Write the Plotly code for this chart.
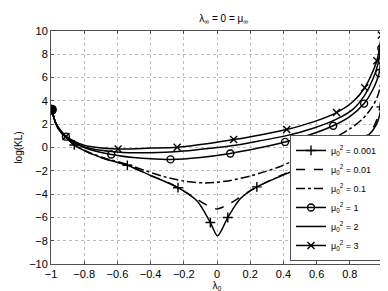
import plotly.graph_objects as go

# ---- data ----
x_a = [-0.995, -0.97, -0.94, -0.91, -0.86, -0.78, -0.68, -0.54, -0.40, -0.235, -0.12, -0.04, 0.003, 0.065, 0.14, 0.24, 0.36, 0.47, 0.6, 0.75, 0.88, 0.94, 0.97, 0.99]
y_a = [3.25, 2.0, 1.3, 0.85, 0.22, -0.4, -0.95, -1.53, -2.4, -3.45, -4.6, -6.44, -7.57, -6.01, -4.4, -3.38, -2.6, -1.95, -1.15, -0.2, 0.65, 1.5, 2.3, 3.49]
m_a = [0, 4, 7, 9, 11, 13, 15, 18, 20, 23]

x_b = [-0.995, -0.97, -0.94, -0.91, -0.86, -0.78, -0.68, -0.54, -0.40, -0.28, -0.2, -0.13, -0.06, 0.0, 0.06, 0.13, 0.2, 0.28, 0.36, 0.47, 0.6, 0.75, 0.88, 0.94, 0.97, 0.99]
y_b = [3.25, 2.0, 1.3, 0.85, 0.22, -0.4, -0.95, -1.53, -2.4, -3.1, -3.75, -4.35, -4.95, -5.27, -4.95, -4.35, -3.7, -3.1, -2.55, -1.9, -1.1, -0.15, 0.75, 1.7, 2.7, 4.4]

x_c = [-0.995, -0.97, -0.94, -0.91, -0.86, -0.78, -0.68, -0.54, -0.43, -0.32, -0.2, -0.07, 0.05, 0.2, 0.374, 0.5, 0.6, 0.7, 0.8, 0.88, 0.94, 0.97, 0.99]
y_c = [3.25, 2.0, 1.3, 0.87, 0.25, -0.35, -0.9, -1.45, -2.0, -2.5, -2.88, -3.04, -2.9, -2.45, -1.67, -0.85, -0.1, 0.75, 1.6, 2.5, 3.6, 4.5, 5.7]

x_d = [-0.995, -0.97, -0.94, -0.91, -0.8, -0.637, -0.45, -0.28, -0.1, 0.08, 0.25, 0.41, 0.56, 0.70, 0.80, 0.886, 0.94, 0.977, 0.99]
y_d = [3.25, 2.05, 1.4, 0.93, 0.0, -0.6, -0.93, -1.02, -0.85, -0.51, -0.05, 0.48, 1.1, 1.87, 2.65, 3.77, 5.0, 6.4, 8.53]
m_d = [0, 3, 5, 7, 9, 11, 13, 15, 17, 18]

x_e = [-0.995, -0.97, -0.94, -0.91, -0.8, -0.6, -0.4, -0.2, 0.0, 0.1, 0.25, 0.42, 0.58, 0.72, 0.82, 0.89, 0.94, 0.97, 0.99]
y_e = [3.25, 2.05, 1.4, 0.94, 0.05, -0.38, -0.45, -0.3, 0.0, 0.17, 0.55, 1.02, 1.65, 2.43, 3.3, 4.5, 5.9, 7.2, 9.1]

x_f = [-0.995, -0.97, -0.94, -0.91, -0.8, -0.596, -0.4, -0.24, -0.05, 0.10, 0.26, 0.42, 0.58, 0.72, 0.82, 0.89, 0.963, 0.99]
y_f = [3.25, 2.05, 1.42, 0.95, 0.2, -0.12, -0.05, 0.03, 0.35, 0.68, 1.08, 1.55, 2.2, 3.0, 3.95, 5.13, 7.45, 9.66]
m_f = [0, 3, 5, 7, 9, 11, 13, 15, 16, 17]

labels = ["μ<sub>0</sub><sup>2</sup> = 0.001", "μ<sub>0</sub><sup>2</sup> = 0.01",
          "μ<sub>0</sub><sup>2</sup> = 0.1", "μ<sub>0</sub><sup>2</sup> = 1",
          "μ<sub>0</sub><sup>2</sup> = 2", "μ<sub>0</sub><sup>2</sup> = 3"]

x_ticks = [-1, -0.8, -0.6, -0.4, -0.2, 0, 0.2, 0.4, 0.6, 0.8, 1]
y_ticks = [-10, -8, -6, -4, -2, 0, 2, 4, 6, 8, 10]

# ---- figure ----
curves = [
    (x_a, y_a, m_a, "solid", "cross-thin-open"),
    (x_b, y_b, None, "dash", None),
    (x_c, y_c, None, "dashdot", None),
    (x_d, y_d, m_d, "solid", "circle-open"),
    (x_e, y_e, None, "solid", None),
    (x_f, y_f, m_f, "solid", "x-thin-open"),
]

fig = go.Figure()
K = "black"
MS = 7
for i, (xs, ys, mi, dash, sym) in enumerate(curves):
    fig.add_trace(go.Scatter(x=xs, y=ys, mode="lines", showlegend=False,
                             line=dict(color=K, width=1.5, dash=dash, shape="spline", smoothing=0.8)))
    if mi is not None:
        fig.add_trace(go.Scatter(x=[xs[j] for j in mi], y=[ys[j] for j in mi], mode="markers",
                                 showlegend=False,
                                 marker=dict(symbol=sym, size=MS, color=K, line=dict(color=K, width=1.4))))
    # legend entry
    if sym is not None:
        fig.add_trace(go.Scatter(x=[None], y=[None], mode="lines+markers", name=labels[i],
                                 line=dict(color=K, width=1.5, dash=dash),
                                 marker=dict(symbol=sym, size=MS, color=K, line=dict(color=K, width=1.4))))
    else:
        fig.add_trace(go.Scatter(x=[None], y=[None], mode="lines", name=labels[i],
                                 line=dict(color=K, width=1.5, dash=dash)))

# filled start point (overlapping markers in the original)
fig.add_trace(go.Scatter(x=[x_a[0]], y=[y_a[0]], mode="markers", showlegend=False,
                         marker=dict(symbol="circle", size=10, color=K)))

axis_common = dict(showgrid=True, gridcolor="#bdbdbd", griddash="dot", gridwidth=1,
                   showline=True, linecolor="#505050", linewidth=1, mirror="ticks",
                   ticks="inside", ticklen=3, tickcolor="#505050", zeroline=False,
                   tickfont=dict(size=11, color="black"))

fig.update_layout(
    width=388, height=291,
    margin=dict(l=33, r=10, t=23, b=33),
    paper_bgcolor="white", plot_bgcolor="white",
    font=dict(family="Liberation Sans, Arial, sans-serif", size=11, color="black"),
    title=dict(text="λ<sub>∞</sub> = 0 = μ<sub>∞</sub>", x=0.556, xanchor="center",
               y=1 - 10 / 291, yanchor="middle", font=dict(size=10)),
    xaxis=dict(range=[-1, 1], tickvals=x_ticks, ticktext=[("−" if v < 0 else "") + f"{abs(v):g}" for v in x_ticks],
               title=dict(text="λ<sub>0</sub>", standoff=2, font=dict(size=10)), **axis_common),
    yaxis=dict(range=[-10, 10], tickvals=y_ticks, ticktext=[("−" if v < 0 else "") + f"{abs(v):g}" for v in y_ticks],
               title=dict(text="log(KL)", standoff=4, font=dict(size=10)), **axis_common),
    legend=dict(x=0.997, xanchor="right", y=0.013, yanchor="bottom",
                bgcolor="white", bordercolor="#505050", borderwidth=1,
                font=dict(size=9), tracegroupgap=0, itemwidth=30),
)

fig.write_html("out.html")
